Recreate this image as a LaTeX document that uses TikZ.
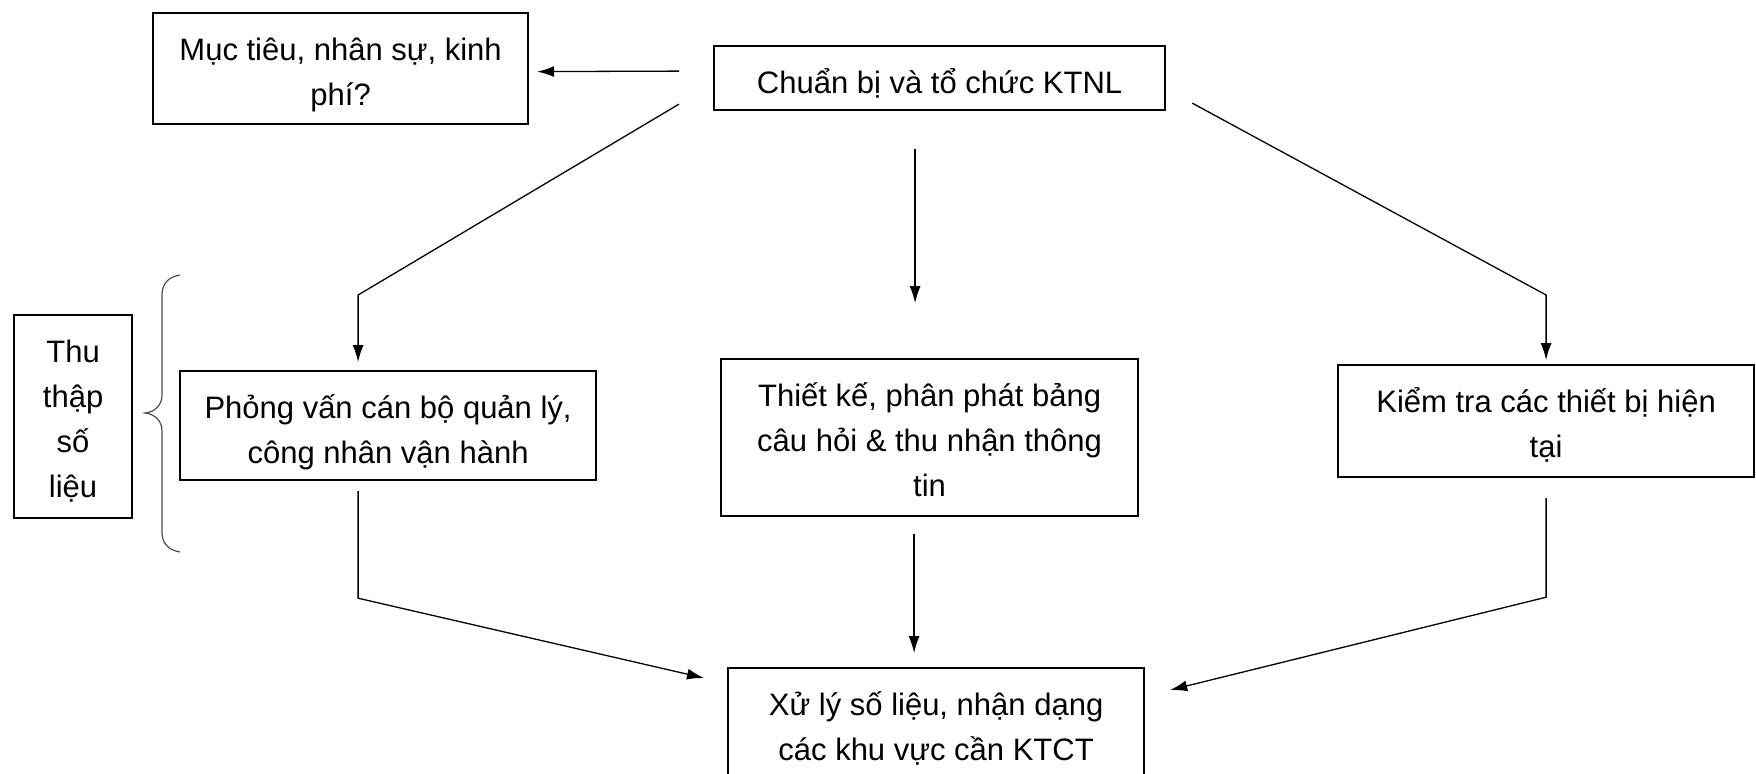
\documentclass[tikz,border=0pt]{standalone}
\usepackage{fontspec}
\setmainfont{Liberation Sans}
\usetikzlibrary{arrows.meta}

% centred block of lines whose reference point is the first baseline
\newcommand\boxtext[1]{\begin{tabular}[t]{@{}c@{}}#1\end{tabular}}

\begin{document}
\begin{tikzpicture}[x=0.5pt,y=-0.5pt,
  stepbox/.style={draw=black, line width=1.1pt, fill=white, inner sep=0pt,
    anchor=north west, text height=23.5pt,
    font=\fontsize{15.5}{22.5}\selectfont},
  link/.style={draw=black, line width=0.65pt},
  arr/.style={link, -{Latex[length=8.5pt,width=5.5pt]}},
  bracestyle/.style={draw=black!70, line width=0.6pt}]

\useasboundingbox (0,0) rectangle (1756,773);
\clip (0,0) rectangle (1756,773);

% boxes
\node[stepbox, minimum width=187.5pt, text depth=32pt] (muc) at (152,12)
  {\boxtext{Mục tiêu, nhân sự, kinh\\phí?}};
\node[stepbox, minimum width=225.5pt, text depth=8.5pt] (chuan) at (713,45)
  {\boxtext{Chuẩn bị và tổ chức KTNL}};
\node[stepbox, minimum width=59pt, text depth=78pt] (thu) at (13,314)
  {\boxtext{Thu\\thập\\số\\liệu}};
\node[stepbox, minimum width=208pt, text depth=31pt] (phong) at (179,370)
  {\boxtext{Phỏng vấn cán bộ quản lý,\\công nhân vận hành}};
\node[stepbox, minimum width=208.5pt, text depth=55pt] (thiet) at (720,358)
  {\boxtext{Thiết kế, phân phát bảng\\câu hỏi \& thu nhận thông\\tin}};
\node[stepbox, minimum width=208pt, text depth=32.5pt] (kiem) at (1337,364)
  {\boxtext{Kiểm tra các thiết bị hiện\\tại}};
\node[stepbox, minimum width=208pt, text depth=33.5pt] (xu) at (727,667)
  {\boxtext{Xử lý số liệu, nhận dạng\\các khu vực cần KTCT}};

% brace grouping the data collection steps
\draw[bracestyle] (180,275) .. controls (168,277) and (162,284) .. (162,295)
  -- (162,395) .. controls (162,405) and (155,412) .. (145,413)
  .. controls (155,414) and (162,421) .. (162,431)
  -- (162,532) .. controls (162,543) and (168,550) .. (180,552);

% connectors from the preparation step
\draw[arr] ([shift={(-34,-7)}]chuan.west) -- ([shift={(8,3)}]muc.east);
\draw[arr] ([shift={(-34,26)}]chuan.west) -- ([shift={(-30,-75)}]phong.north)
  -- ([shift={(-30,-8)}]phong.north);
\draw[arr] ([shift={(-24.5,38)}]chuan.south) -- ([shift={(-14.5,-55)}]thiet.north);
\draw[arr] ([shift={(26,25)}]chuan.east) -- ([shift={(0,-69)}]kiem.north)
  -- ([shift={(0,-4)}]kiem.north);

% connectors into the processing step
\draw[arr] ([shift={(-30,10)}]phong.south) -- ([shift={(-30,117)}]phong.south)
  -- ([shift={(-23,11)}]xu.north west);
\draw[arr] ([shift={(-15.5,17)}]thiet.south) -- ([shift={(-22,-14)}]xu.north);
\draw[arr] ([shift={(0,20)}]kiem.south) -- ([shift={(0,119)}]kiem.south)
  -- ([shift={(25,23)}]xu.north east);
\end{tikzpicture}
\end{document}
